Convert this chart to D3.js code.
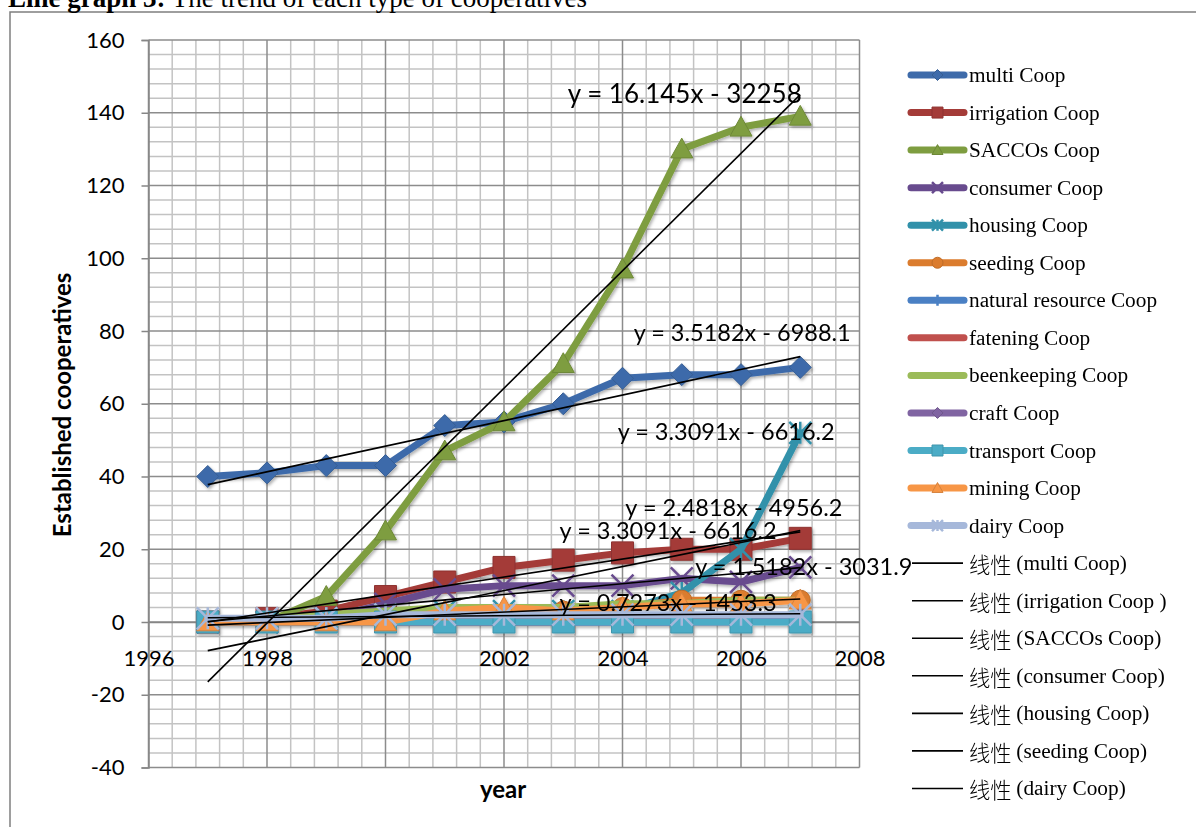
<!DOCTYPE html>
<html><head><meta charset="utf-8">
<script src="https://cdn.jsdelivr.net/npm/d3@7"></script>
<style>body{margin:0;background:#fff;} svg{display:block;}</style>
</head><body><svg id="c" width="1196" height="827"></svg>
<script>
// ---------- DATA ----------
const years = [1997,1998,1999,2000,2001,2002,2003,2004,2005,2006,2007];
const seriesNames = ["multi Coop","irrigation Coop","SACCOs Coop","consumer Coop","housing Coop","seeding Coop","natural resource Coop","fatening Coop","beenkeeping Coop","craft Coop","transport Coop","mining Coop","dairy Coop"];
const multiCoop      = [40,41,43,43,54,55,60,67,68,68,70];
const irrigationCoop = [0,1,3,7,11,15,17,19,20,20,23];
const saccosCoop     = [0,0,7,25,47,55,71,97,130,136,139];
const consumerCoop   = [0,0,1,5,9,10,10,10,12,11,15];
const housingCoop    = [0,0,1,2,3,3,3,3,8,20,52];
const seedingCoop    = [0,0,0,1,2,2,3,4,6,6,6];
const naturalCoop    = [0,0,0,0,0,0,0,0,0,1,1];
const fateningCoop   = [0,0,0,0,0,0,0,1,1,1,1];
const beekeepingCoop = [0,1,2,3,4,4,4,5,5,6,6];
const craftCoop      = [0,0,0,0,0,0,0,0,0,0,1];
const transportCoop  = [0,0,0,0,0,0,0,0,0,0,0];
const miningCoop     = [0,0,0,0,3,4,3,4,5,5,6];
const dairyCoop      = [1,1,1,2,2,2,2,2,2,2,2];
const seriesValues = [multiCoop,irrigationCoop,saccosCoop,consumerCoop,housingCoop,seedingCoop,naturalCoop,fateningCoop,beekeepingCoop,craftCoop,transportCoop,miningCoop,dairyCoop];

// linear trendlines (series index) and their legend texts
const trendSeriesIdx = [0,1,2,3,4,5,12];
const trendLegend = ["线性 (multi Coop)","线性 (irrigation Coop )","线性 (SACCOs Coop)","线性 (consumer Coop)","线性 (housing Coop)","线性 (seeding Coop)","线性 (dairy Coop)"];
// trendline equation labels as printed, with anchor [year, value]
const eqLabels = ["y = 16.145x - 32258","y = 3.5182x - 6988.1","y = 3.3091x - 6616.2","y = 2.4818x - 4956.2","y = 3.3091x - 6616.2","y = 1.5182x - 3031.9","y = 0.7273x - 1453.3"];
const eqYears  = [2005.05,2006.02,2005.75,2005.88,2004.77,2007.06,2004.77];
const eqValues = [145.3,79.6,52.4,31.5,25.2,15.3,5.6];

const yTicks = [-40,-20,0,20,40,60,80,100,120,140,160];
const xTicks = [1996,1998,2000,2002,2004,2006,2008];

const titleBold = "Line graph 3:";
const titleRest = " The trend of each type of cooperatives";
const yTitle = "Established cooperatives";
const xTitle = "year";

// ---------- STYLE ----------
const colors = ["#3E6BAA","#A43B38","#7E9D40","#684B8E","#3191AA","#DB7C2E","#4A80C4","#C0504D","#9BBB59","#8064A2","#4BACC6","#F79646","#A6B8DA"];
const markers = ["diamond","square","triangle","x","star","circle","plus","none","none","diamond","square","triangle","star"];
const SANS = "Lato, Carlito, Calibri, sans-serif";
const SERIF = "'Liberation Serif','Times New Roman',serif";

const svg = d3.select("#c");
const W = 1196, H = 827;
const plot = {l:148.5, r:859.5, t:40, b:767.5};
const x = d3.scaleLinear().domain([1996,2008]).range([plot.l, plot.r]);
const y = d3.scaleLinear().domain([-40,160]).range([plot.b, plot.t]);

const defs = svg.append("defs");
const f = defs.append("filter").attr("id","sh").attr("x","-20%").attr("y","-20%").attr("width","140%").attr("height","140%");
f.append("feDropShadow").attr("dx",1.5).attr("dy",2).attr("stdDeviation",1.5).attr("flood-color","#000").attr("flood-opacity",0.3);

// frame
svg.append("path").attr("d",`M10,${H+2} L10,12 L${W+2},12`).attr("fill","none").attr("stroke","#7f7f7f").attr("stroke-width",1.5);

// title
const tt = svg.append("text").attr("x",8).attr("y",7).attr("font-family",SERIF).attr("font-size",27).attr("fill","#000");
tt.append("tspan").attr("font-weight","bold").text(titleBold);
tt.append("tspan").text(titleRest);

// grid
const g = svg.append("g");
const minorY = d3.range(-40,160.01,4).filter(v=>v%20!==0);
const minorX = d3.range(0,30).map(i=>1996+i*0.4).filter((v,i)=>i%5!==0);
g.selectAll(".mh").data(minorY).join("line").attr("x1",plot.l).attr("x2",plot.r).attr("y1",d=>y(d)).attr("y2",d=>y(d)).attr("stroke","#c3c3c3").attr("stroke-width",1.5);
g.selectAll(".mv").data(minorX).join("line").attr("y1",plot.t).attr("y2",plot.b).attr("x1",d=>x(d)).attr("x2",d=>x(d)).attr("stroke","#c3c3c3").attr("stroke-width",1.5);
g.selectAll(".Mh").data(yTicks).join("line").attr("x1",plot.l).attr("x2",plot.r).attr("y1",d=>y(d)).attr("y2",d=>y(d)).attr("stroke","#8c8c8c").attr("stroke-width",1.5);
g.selectAll(".Mv").data(xTicks).join("line").attr("y1",plot.t).attr("y2",plot.b).attr("x1",d=>x(d)).attr("x2",d=>x(d)).attr("stroke","#8c8c8c").attr("stroke-width",1.5);

// axes
const yAxis = d3.axisLeft(y).tickValues(yTicks).tickSize(7).tickPadding(17).tickFormat(d=>String(d));
const ya = svg.append("g").attr("transform",`translate(${plot.l},0)`).call(yAxis);
ya.select(".domain").attr("stroke","#868686").attr("stroke-width",1.5);
ya.selectAll(".tick line").attr("stroke","#868686").attr("stroke-width",1.5);
ya.selectAll(".tick text").attr("font-family",SANS).attr("font-size",22).attr("fill","#000");

const xAxis = d3.axisBottom(x).tickValues(xTicks).tickSize(0).tickPadding(28).tickFormat(d=>String(d));
const xa = svg.append("g").attr("transform",`translate(0,${y(0)})`).call(xAxis);
xa.select(".domain").attr("stroke","#868686").attr("stroke-width",1.5);
xa.selectAll(".tick text").attr("font-family",SANS).attr("font-size",22).attr("fill","#000");

// axis titles
svg.append("text").attr("transform",`translate(71,405) rotate(-90)`).attr("text-anchor","middle").attr("font-family",SANS).attr("font-weight","bold").attr("font-size",24).text(yTitle);
svg.append("text").attr("x",503).attr("y",798).attr("text-anchor","middle").attr("font-family",SANS).attr("font-weight","bold").attr("font-size",24).text(xTitle);

// marker shapes
function markerPath(type, s){
  switch(type){
    case "diamond": return `M0,${-s}L${s},0L0,${s}L${-s},0Z`;
    case "square": return `M${-s},${-s}H${s}V${s}H${-s}Z`;
    case "triangle": return `M0,${-s}L${s},${s*0.8}L${-s},${s*0.8}Z`;
    case "circle": return `M${-s},0A${s},${s} 0 1,0 ${s},0A${s},${s} 0 1,0 ${-s},0Z`;
    case "x": return `M${-s},${-s}L${s},${s}M${s},${-s}L${-s},${s}`;
    case "star": return `M${-s},${-s}L${s},${s}M${s},${-s}L${-s},${s}M0,${-s}L0,${s}`;
    case "plus": return `M0,${-s}L0,${s}M${-s*0.5},0L${s*0.5},0`;
  }
  return "";
}
const stroked = t => t==="x"||t==="star"||t==="plus";
function drawMarker(sel, type, color, s){
  if(type==="none") return;
  const p = sel.append("path").attr("d", markerPath(type,s));
  if(stroked(type)) p.attr("fill","none").attr("stroke",color).attr("stroke-width",2.5);
  else p.attr("fill",color).attr("stroke",d3.color(color).darker(0.4)).attr("stroke-width",1);
}

// series
const line = d3.line().x((d,i)=>x(years[i])).y(d=>y(d));
const sg = svg.append("g").attr("filter","url(#sh)");
seriesValues.forEach((vals,k)=>{
  const gg = sg.append("g");
  gg.append("path").attr("d",line(vals)).attr("fill","none").attr("stroke",colors[k]).attr("stroke-width",7).attr("stroke-linejoin","round").attr("stroke-linecap","round");
  vals.forEach((v,i)=>{
    const m = gg.append("g").attr("transform",`translate(${x(years[i])},${y(v)})`);
    drawMarker(m, markers[k], colors[k], markers[k]==="circle"?10:11);
  });
});

// trendlines (least squares)
function fit(vals){
  const mx=d3.mean(years), my=d3.mean(vals);
  let sxy=0,sxx=0; years.forEach((xx,i)=>{sxy+=(xx-mx)*(vals[i]-my); sxx+=(xx-mx)**2;});
  const b=sxy/sxx; return {b, a: my-b*mx};
}
const tg = svg.append("g");
trendSeriesIdx.forEach(k=>{
  const {a,b}=fit(seriesValues[k]);
  const x0=years[0], x1=years[years.length-1];
  tg.append("line").attr("x1",x(x0)).attr("y1",y(a+b*x0)).attr("x2",x(x1)).attr("y2",y(a+b*x1)).attr("stroke","#000").attr("stroke-width",1.6);
});

// equation labels
eqLabels.forEach((t,i)=>{
  svg.append("text").attr("x",x(eqYears[i])).attr("y",y(eqValues[i])).attr("text-anchor","middle").attr("dominant-baseline","central").attr("font-family",SANS).attr("font-size",i===0?26:23.5).attr("fill","#000").text(t);
});

// legend
const lg = svg.append("g");
const rowY = i => 75 + i*37.55;
seriesNames.forEach((nm,k)=>{
  const yy=rowY(k);
  lg.append("line").attr("x1",911).attr("x2",964).attr("y1",yy).attr("y2",yy).attr("stroke",colors[k]).attr("stroke-width",7).attr("stroke-linecap","round");
  const m = lg.append("g").attr("transform",`translate(937.5,${yy})`);
  drawMarker(m, markers[k], colors[k], 5.5);
  lg.append("text").attr("x",969).attr("y",yy).attr("dominant-baseline","central").attr("font-family",SERIF).attr("font-size",21.3).text(nm);
});
trendLegend.forEach((nm,j)=>{
  const yy=rowY(seriesNames.length+j);
  lg.append("line").attr("x1",912).attr("x2",963).attr("y1",yy).attr("y2",yy).attr("stroke","#000").attr("stroke-width",1.6);
  const t = lg.append("text").attr("x",969).attr("y",yy).attr("dominant-baseline","central").attr("font-family",SERIF).attr("font-size",21.3);
  const parts = nm.split(" ");
  t.append("tspan").attr("font-family","'Noto Sans CJK SC',sans-serif").attr("font-weight",300).text(parts[0]+" ");
  t.append("tspan").text(parts.slice(1).join(" "));
});
</script>
</body></html>
